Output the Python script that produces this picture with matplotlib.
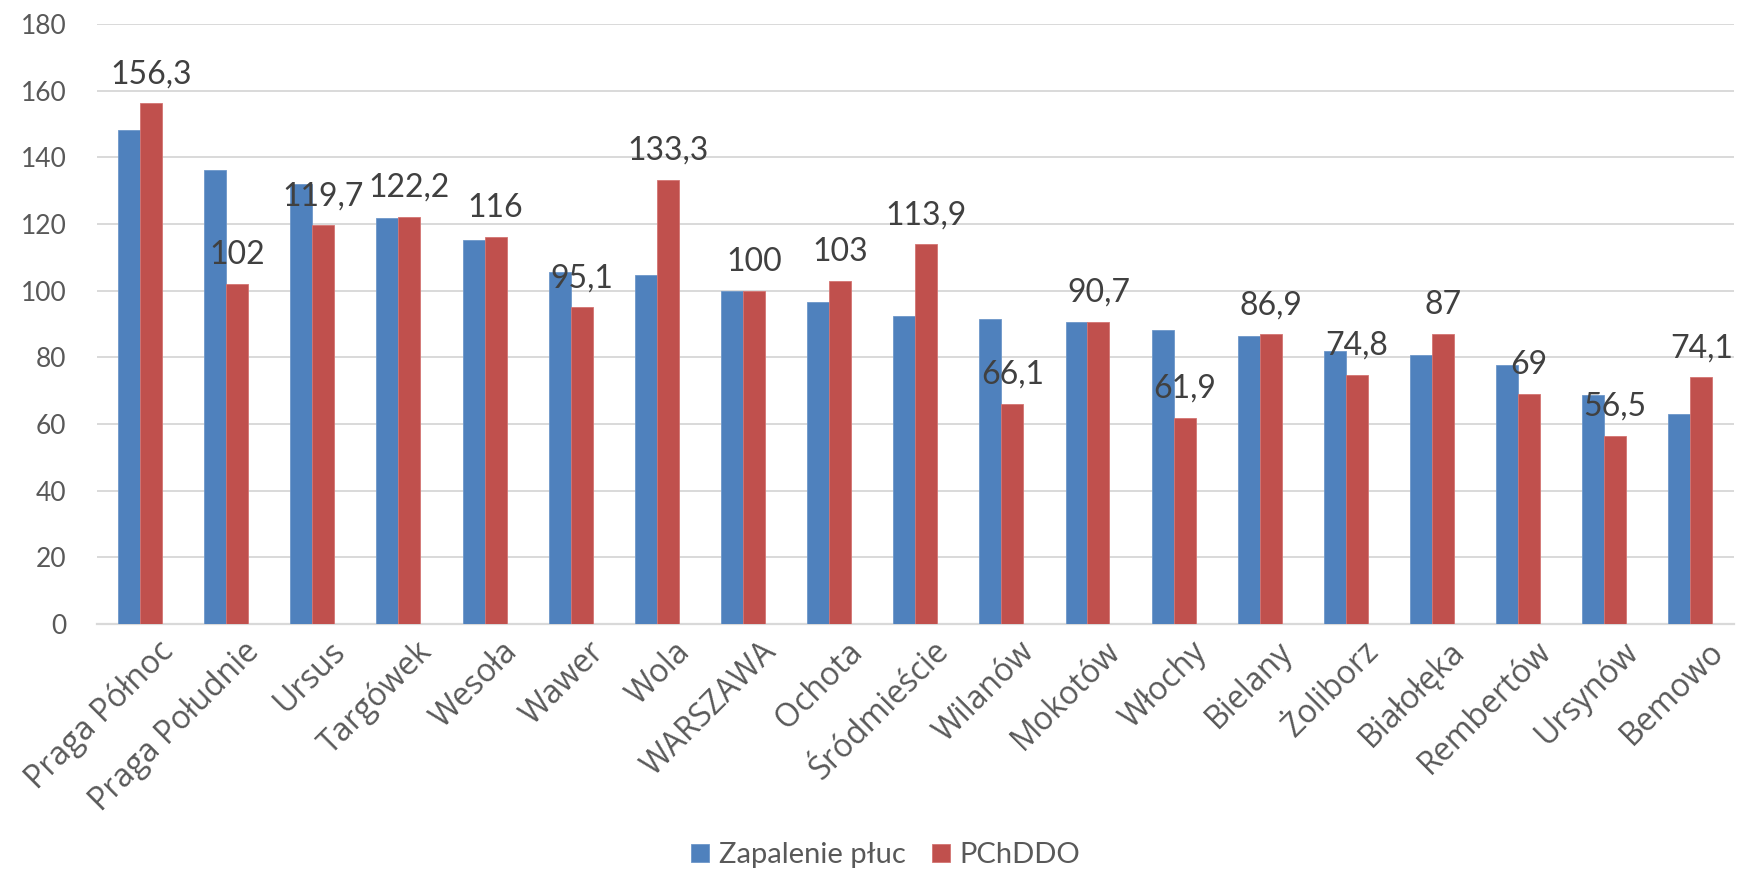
import numpy as np
import matplotlib
matplotlib.use('Agg')
import matplotlib.pyplot as plt
import matplotlib.transforms as mtrans

plt.rcParams['font.family'] = ['Lato', 'DejaVu Sans']

districts = ['Praga Północ', 'Praga Południe', 'Ursus', 'Targówek', 'Wesoła',
             'Wawer', 'Wola', 'WARSZAWA', 'Ochota', 'Śródmieście', 'Wilanów',
             'Mokotów', 'Włochy', 'Bielany', 'Żoliborz', 'Białołęka',
             'Rembertów', 'Ursynów', 'Bemowo']

# pneumonia index (no labels on these bars)
zapalenie = [148.1, 136.2, 132.0, 121.7, 115.2, 105.6, 104.8, 100.0, 96.5,
             92.3, 91.6, 90.7, 88.1, 86.5, 81.8, 80.8, 77.7, 68.7, 63.1]
# PChDDO index
pchddo = [156.3, 102, 119.7, 122.2, 116, 95.1, 133.3, 100, 103, 113.9,
          66.1, 90.7, 61.9, 86.9, 74.8, 87, 69, 56.5, 74.1]

yticks = [0, 20, 40, 60, 80, 100, 120, 140, 160, 180]

BLUE = '#4F81BD'
RED = '#C0504D'
GRID = '#D9D9D9'

fig = plt.figure(figsize=(17.37, 8.69), dpi=100)
ax = fig.add_axes([0.0558, 0.2819, 0.9422, 0.6905])

x = np.arange(len(districts))
w = 0.255
ax.bar(x - w / 2, zapalenie, w, color=BLUE, edgecolor='#6d97c9', linewidth=0.6,
       label='Zapalenie płuc', zorder=3)
bars = ax.bar(x + w / 2, pchddo, w, color=RED, edgecolor='#d47472', linewidth=0.6,
              label='PChDDO', zorder=3)

for b, v in zip(bars, pchddo):
    txt = ('%g' % v).replace('.', ',')
    ax.annotate(txt, (b.get_x() + b.get_width() / 2, v), xytext=(0, 10),
                textcoords='offset points', ha='center', va='bottom',
                fontsize=23, color='#404040', zorder=4)

ax.set_xlim(-0.5, len(districts) - 0.5)
ax.set_ylim(0, 180)
ax.set_yticks(yticks)
ax.yaxis.grid(True, color=GRID, linewidth=1.4, zorder=0)
ax.set_axisbelow(True)

for s in ['top', 'right', 'left']:
    ax.spines[s].set_visible(False)
ax.spines['bottom'].set_color(GRID)
ax.spines['bottom'].set_linewidth(1.6)

ax.tick_params(axis='y', length=0, pad=22, labelsize=19, labelcolor='#595959')
ax.tick_params(axis='x', length=0, pad=8, labelcolor='#595959')
ax.set_xticks(x)
ax.set_xticklabels(districts, rotation=45, ha='right', rotation_mode='anchor',
                   fontsize=23, family=['Open Sans', 'DejaVu Sans'])
shift = mtrans.ScaledTranslation(12 / 72, 0, fig.dpi_scale_trans)
for lab in ax.get_xticklabels():
    lab.set_transform(lab.get_transform() + shift)

fig.legend(loc='center', bbox_to_anchor=(0.51, 0.016), ncol=2, frameon=False,
           fontsize=21, labelcolor='#595959', handlelength=0.6, handleheight=0.6,
           handletextpad=0.35, columnspacing=0.9)

fig.savefig('out.png', dpi=100)
